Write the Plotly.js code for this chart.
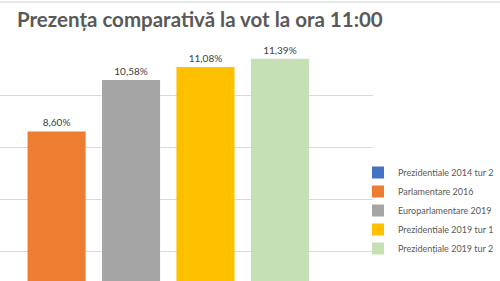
<!DOCTYPE html>
<html>
<head>
<meta charset="utf-8">
<script src="https://cdn.plot.ly/plotly-3.0.1.min.js"></script>
<style>html,body{margin:0;padding:0;background:#fff;overflow:hidden}</style>
</head>
<body>
<div id="chart" style="width:500px;height:281px"></div>
<script>
const category = ["ora 11:00"];
const seriesNames = ["Prezidentiale 2014 tur 2", "Parlamentare 2016", "Europarlamentare 2019", "Prezidentiale 2019 tur 1", "Prezidențiale 2019 tur 2"];
const seriesValues = [null, 8.60, 10.58, 11.08, 11.39];
const seriesColors = ["#4472C4", "#ED7D31", "#A5A5A5", "#FFC000", "#C5E0B4"];

const traces = seriesNames.map((name, i) => ({
  type: "bar",
  name: name,
  x: category,
  y: [seriesValues[i]],
  marker: {color: seriesColors[i]},
  texttemplate: seriesValues[i] === null ? "" : "%{y:.2f}%",
  textposition: "outside",
  cliponaxis: false,
  textfont: {family: "Lato, 'Open Sans', sans-serif", size: 10, color: "#404040"},
  hoverinfo: "none"
}));

const layout = {
  width: 500, height: 281,
  margin: {l: 0, r: 127, t: 43, b: 0, pad: 0, autoexpand: false},
  paper_bgcolor: "#fff", plot_bgcolor: "#fff",
  separators: ",.",
  barmode: "group",
  bargap: 0,
  bargroupgap: 0.22,
  showlegend: true,
  title: {
    text: "<b>Prezența comparativă la vot la ora 11:00</b>",
    font: {family: "Lato, 'Open Sans', sans-serif", size: 20.5, color: "#595959"},
    xref: "container", x: 0.034, xanchor: "left",
    yref: "container", y: 0.93, yanchor: "middle"
  },
  xaxis: {
    type: "category",
    range: [-0.352, 0.650],
    showticklabels: false, showgrid: false, zeroline: false, showline: false, ticks: ""
  },
  yaxis: {
    range: [2.85, 12],
    dtick: 2, tick0: 0,
    showticklabels: false, ticks: "",
    showgrid: true, gridcolor: "#D9D9D9", gridwidth: 1,
    zeroline: false, showline: false
  },
  legend: {
    x: 358 / 373, xanchor: "left", xref: "paper",
    y: (281 - 158) / 238, yanchor: "top",
    font: {family: "Lato, 'Open Sans', sans-serif", size: 9, color: "#595959"},
    traceorder: "normal",
    bgcolor: "rgba(0,0,0,0)"
  },
  shapes: [{
    type: "line", xref: "paper", yref: "paper",
    x0: 0, x1: 500 / 373, y0: 1 + 41 / 238, y1: 1 + 41 / 238,
    line: {color: "#D0D0D0", width: 1}
  }]
};

Plotly.newPlot("chart", traces, layout, {staticPlot: true, displayModeBar: false});
</script>
</body>
</html>
